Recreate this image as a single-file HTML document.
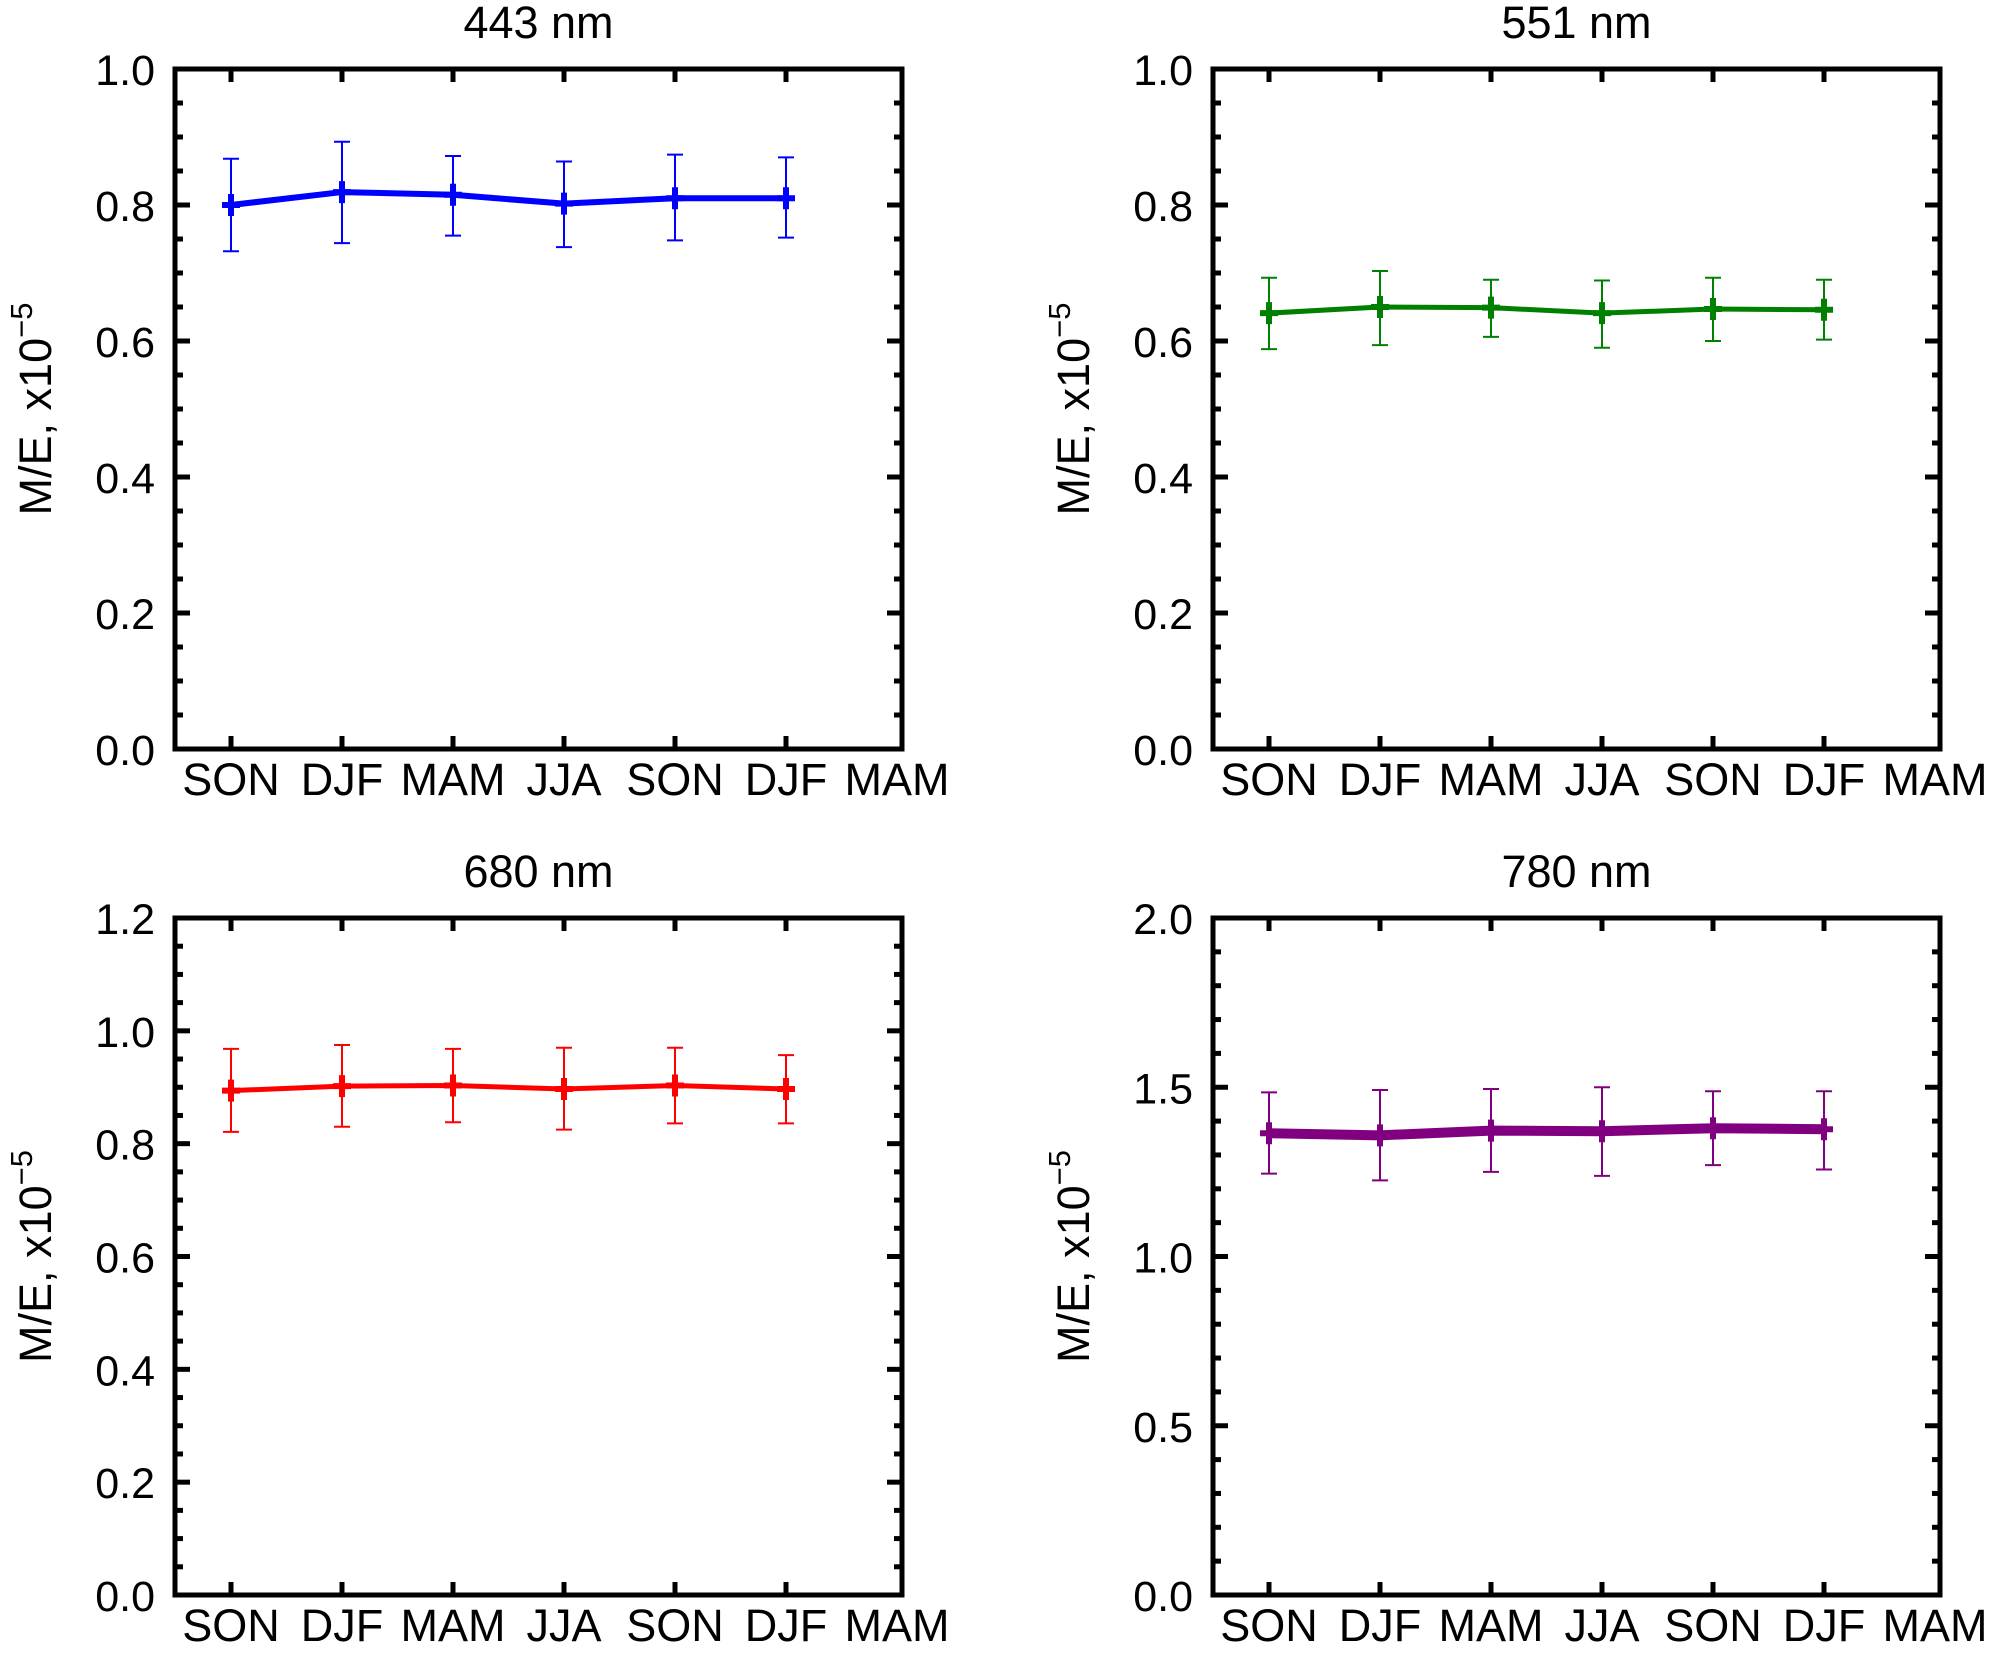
<!DOCTYPE html>
<html><head><meta charset="utf-8"><style>
html,body{margin:0;padding:0;background:#fff;}
svg{display:block;font-family:"Liberation Sans",Arial,sans-serif;}
</style></head><body>
<svg id="fig" width="2003" height="1654" viewBox="0 0 2003 1654" xmlns="http://www.w3.org/2000/svg"></svg>
<script>
const categories = ["SON","DJF","MAM","JJA","SON","DJF","MAM"];
const titles = ["443 nm","551 nm","680 nm","780 nm"];
const mean443 = [0.800,0.819,0.815,0.802,0.810,0.810];
const up443   = [0.868,0.893,0.872,0.864,0.874,0.870];
const lo443   = [0.732,0.744,0.755,0.738,0.748,0.752];
const mean551 = [0.641,0.650,0.649,0.641,0.647,0.646];
const up551   = [0.693,0.703,0.690,0.689,0.693,0.690];
const lo551   = [0.588,0.594,0.606,0.590,0.600,0.602];
const mean680 = [0.894,0.902,0.903,0.897,0.903,0.897];
const up680   = [0.968,0.975,0.968,0.970,0.970,0.957];
const lo680   = [0.821,0.830,0.838,0.825,0.836,0.836];
const mean780 = [1.364,1.358,1.372,1.370,1.379,1.376];
const up780   = [1.485,1.492,1.495,1.500,1.488,1.488];
const lo780   = [1.245,1.225,1.250,1.238,1.270,1.257];
const yMax = [1.0,1.0,1.2,2.0];
const yMajor = [0.2,0.2,0.2,0.5];
const yMinor = [0.05,0.05,0.05,0.1];

const NS="http://www.w3.org/2000/svg";
const svg=document.getElementById('fig');
function mk(tag,attrs,parent){const e=document.createElementNS(NS,tag);for(const k in attrs)e.setAttribute(k,attrs[k]);(parent||svg).appendChild(e);return e;}

const panels=[
 {l:175,t:69,r:902,b:749,m:mean443,u:up443,lo:lo443,c:"#0000ff",lw:6},
 {l:1213,t:69,r:1940,b:749,m:mean551,u:up551,lo:lo551,c:"#008000",lw:5},
 {l:175,t:918,r:902,b:1595,m:mean680,u:up680,lo:lo680,c:"#ff0000",lw:5},
 {l:1213,t:918,r:1940,b:1595,m:mean780,u:up780,lo:lo780,c:"#800080",lw:10}
];
panels.forEach((p,pi)=>{
  const g=mk('g',{});
  
  
  const xs=i=>p.l+56+111*i;
  const ys=v=>p.b-(p.b-p.t)*v/yMax[pi];
  const tt=mk('text',{x:(p.l+p.r)/2,y:p.t-31,'font-size':45,'text-anchor':'middle'},g);
  tt.textContent=titles[pi];
  
  
  const cy=(p.t+p.b)/2;
  const yl=mk('text',{x:0,y:0,'font-size':45,'text-anchor':'middle',transform:`translate(${p.l-124},${cy}) rotate(-90)`},g);
  yl.innerHTML='M/E, x10<tspan dy="-19" font-size="31">−5</tspan>';
  
  
  const nMin=Math.round(yMax[pi]/yMinor[pi]);
  const per=Math.round(yMajor[pi]/yMinor[pi]);
  for(let k=0;k<=nMin;k++){
    const v=k*yMinor[pi], y=ys(v), major=(k%per===0), len=major?15:8;
    mk('line',{x1:p.l,x2:p.l+len,y1:y,y2:y,stroke:'#000','stroke-width':5},g);
    mk('line',{x1:p.r,x2:p.r-len,y1:y,y2:y,stroke:'#000','stroke-width':5},g);
    if(major){
      const t=mk('text',{x:p.l-20,y:y+16,'font-size':43,'text-anchor':'end'},g);
      t.textContent=v.toFixed(1);
      
      
    }
  }
  categories.forEach((c,i)=>{
    const x=xs(i);
    if(i<6){
      mk('line',{x1:x,x2:x,y1:p.b,y2:p.b-13,stroke:'#000','stroke-width':5},g);
      mk('line',{x1:x,x2:x,y1:p.t,y2:p.t+13,stroke:'#000','stroke-width':5},g);
    }
    const t=mk('text',{x:x,y:p.b+46,'font-size':45,'text-anchor':'middle'},g);
    t.textContent=c;
    
    
  });
  const fr=mk('rect',{x:p.l,y:p.t,width:p.r-p.l,height:p.b-p.t,fill:'none',stroke:'#000','stroke-width':5},g);
  
  
  p.m.forEach((v,i)=>{
    const x=xs(i);
    const eb=mk('path',{d:`M${x},${ys(p.u[i])}V${ys(p.lo[i])}M${x-8},${ys(p.u[i])}h16M${x-8},${ys(p.lo[i])}h16`,stroke:p.c,'stroke-width':2,fill:'none'},g);
    
    
  });
  const pts=p.m.map((v,i)=>xs(i)+','+ys(v)).join(' ');
  const ln=mk('polyline',{points:pts,fill:'none',stroke:p.c,'stroke-width':p.lw,'stroke-linejoin':'round'},g);
  
  
  p.m.forEach((v,i)=>{
    const x=xs(i),y=ys(v);
    const mkr=mk('path',{d:`M${x-9},${y}h18M${x},${y-11}v22`,stroke:p.c,'stroke-width':6,fill:'none'},g);
    
    
  });
});
</script>
</body></html>
